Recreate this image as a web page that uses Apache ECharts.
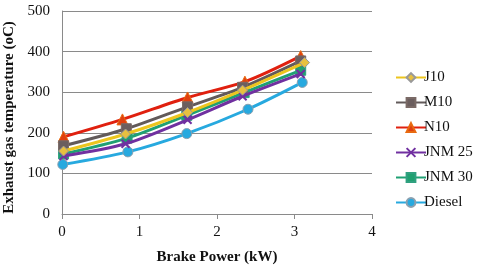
<!DOCTYPE html>
<html><head><meta charset="utf-8">
<script src="https://cdn.jsdelivr.net/npm/echarts@6/dist/echarts.min.js"></script>
<style>html,body{margin:0;padding:0;background:#fff}#c{width:480px;height:272px}</style>
</head><body><div id="c"></div>
<script>
const seriesNames = ['J10','M10','N10','JNM 25','JNM 30','Diesel'];
const j10 = [[0.02,155],[0.82,197],[1.62,250],[2.33,305],[3.13,373]];
const m10 = [[0.02,168],[0.83,210],[1.62,264],[2.33,312],[3.08,377]];
const n10 = [[0.02,190],[0.78,233],[1.62,287],[2.36,326],[3.08,389]];
const jnm25 = [[0.02,143],[0.82,173],[1.62,232],[2.33,290],[3.08,345]];
const jnm30 = [[0.02,148],[0.84,187],[1.61,243],[2.35,299],[3.08,354]];
const diesel = [[0.01,122],[0.85,153],[1.61,198],[2.40,258],[3.10,324]];
const xTicks = [0,1,2,3,4];
const yTicks = [0,100,200,300,400,500];

const colors = ['#ecc51e','#625a5a','#e0200f','#7030a0','#1fa073','#27a9df'];
const symbols = ['diamond','rect','triangle','path://M0,0L10,10M10,0L0,10','rect','circle'];
const markerFill = ['#e8c040','#6b5e5e','#e04010','#7030a0','#20a070','#27a9df'];
const markerBorder = ['#999','#7a6a66','#e86a10','#7a5aa0','#30a080','#8aa0b0'];
const data = [j10,m10,n10,jnm25,jnm30,diesel];
const font = '"Liberation Serif","Times New Roman",serif';

const chart = echarts.init(document.getElementById('c'));
chart.setOption({
  animation:false,
  backgroundColor:'#fff',
  grid:{left:62,right:108,top:11,bottom:58,containLabel:false,outerBoundsMode:'none'},
  legend:{
    orient:'vertical', left:390, top:65, itemGap:10, itemWidth:30, itemHeight:11,
    textStyle:{fontFamily:font,fontSize:15,color:'#111',padding:[0,0,0,-7]},
    data:seriesNames
  },
  xAxis:{
    type:'value', min:xTicks[0], max:xTicks[xTicks.length-1], interval:1,
    name:'Brake Power (kW)', nameLocation:'middle', nameGap:36,
    nameTextStyle:{fontFamily:font,fontSize:15,fontWeight:'bold',color:'#111'},
    axisLine:{lineStyle:{color:'#8a8a8a',width:1}},
    axisTick:{show:true,length:5,lineStyle:{color:'#8a8a8a'}},
    axisLabel:{fontFamily:font,fontSize:15,color:'#111',margin:11},
    splitLine:{show:false}
  },
  yAxis:{
    type:'value', min:yTicks[0], max:yTicks[yTicks.length-1], interval:100,
    name:'Exhaust gas temperature (oC)', nameLocation:'middle', nameGap:44,
    nameTextStyle:{fontFamily:font,fontSize:15,fontWeight:'bold',color:'#111',padding:[0,0,0,-10]},
    axisLine:{show:true,lineStyle:{color:'#8a8a8a',width:1}},
    axisTick:{show:false},
    axisLabel:{fontFamily:font,fontSize:15,color:'#111',margin:12},
    splitLine:{show:true,lineStyle:{color:'#8a8a8a',width:1}}
  },
  series: seriesNames.map((n,i)=>({
    name:n, type:'line', data:data[i], smooth:0.3,
    symbol:symbols[i], symbolSize: i===2?11:(i===3?8:10),
    lineStyle:{color:colors[i],width:3},
    itemStyle:{color:markerFill[i],borderColor:i===3?colors[i]:markerBorder[i],borderWidth:i===3?2:1},
    z: 10-i
  }))
});
</script></body></html>
